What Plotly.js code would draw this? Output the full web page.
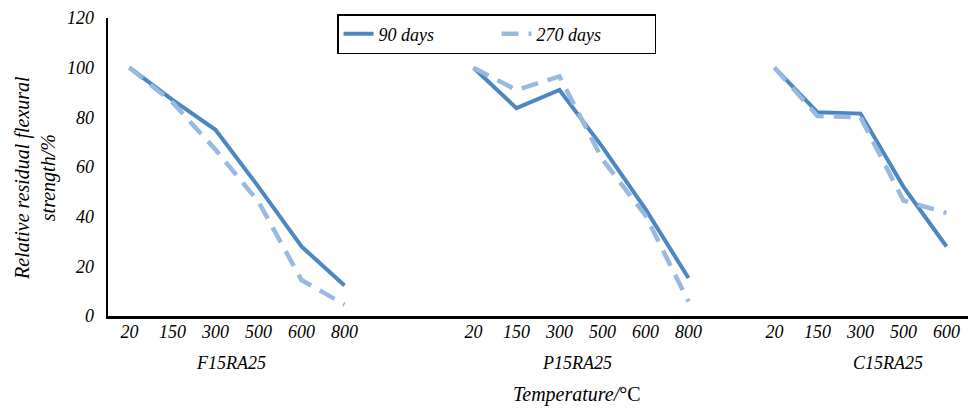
<!DOCTYPE html>
<html>
<head>
<meta charset="utf-8">
<script src="https://cdn.plot.ly/plotly-3.0.1.min.js"></script>
<style>html,body{margin:0;padding:0;background:#fff}#chart{width:973px;height:408px}</style>
</head>
<body>
<div id="chart"></div>
<script>
// ---- data ----
const groups = ['F15RA25', 'P15RA25', 'C15RA25'];
const tempsF = [20, 150, 300, 500, 600, 800];
const tempsP = [20, 150, 300, 500, 600, 800];
const tempsC = [20, 150, 300, 500, 600];
const days90F = [100, 87, 75, 52, 28, 12.3];
const days90P = [100, 83.7, 91, 68, 43, 15.3];
const days90C = [100, 82, 81.5, 52, 28];
const days270F = [100, 86, 67, 46, 14.5, 4.6];
const days270P = [100, 91, 96.5, 63, 40.5, 5.8];
const days270C = [100, 80.5, 80, 46.5, 41.5];
const seriesNames = ['90 days', '270 days'];
const blanksAfter = [2, 1, 0]; // empty categories after each group

// ---- build category positions ----
const groupTemps = [tempsF, tempsP, tempsC];
const g90 = [days90F, days90P, days90C];
const g270 = [days270F, days270P, days270C];
let x = [], y90 = [], y270 = [], tickvals = [], ticktext = [], groupMid = [];
let idx = 0;
groupTemps.forEach((temps, g) => {
  const start = idx;
  temps.forEach((t, i) => {
    x.push(idx); y90.push(g90[g][i]); y270.push(g270[g][i]);
    tickvals.push(idx); ticktext.push(String(t));
    idx++;
  });
  groupMid.push((start + idx - 1) / 2);
  for (let b = 0; b < blanksAfter[g]; b++) { x.push(idx); y90.push(null); y270.push(null); idx++; }
});
const nCat = idx;

const serif = '"Times New Roman", "Liberation Serif", Times, serif';
const labelShift = [-0.13, -0.1, 0.63]; // group label nudges (category units)

const traces = [
  {x: x, y: y90, name: seriesNames[0], type: 'scatter', mode: 'lines', connectgaps: false,
   line: {color: '#4D87C1', width: 4}, hoverinfo: 'skip'},
  {x: x, y: y270, name: seriesNames[1], type: 'scatter', mode: 'lines', connectgaps: false,
   line: {color: '#97B9E2', width: 4.5, dash: '17px,10px'}, hoverinfo: 'skip'}
];

const annotations = groups.map((g, i) => ({
  text: '<i>' + g + '</i>', x: groupMid[i] + labelShift[i], xref: 'x', y: -0.157, yref: 'paper',
  xanchor: 'center', yanchor: 'middle', showarrow: false,
  font: {family: serif, size: 18, color: '#000'}
}));
annotations.push({
  text: '<i>Relative residual flexural<br>strength/%</i>', textangle: -90,
  x: -0.085, xref: 'paper', y: 0.463, yref: 'paper', xanchor: 'center', yanchor: 'middle',
  showarrow: false, font: {family: serif, size: 20, color: '#000'}
});
annotations.push({
  text: '<i>Temperature/</i>°C', x: (groupMid[1] + labelShift[1]), xref: 'x', y: -0.265, yref: 'paper',
  xanchor: 'center', yanchor: 'middle', showarrow: false,
  font: {family: serif, size: 20, color: '#000'}
});

const layout = {
  width: 973, height: 408,
  margin: {l: 108, r: 5, t: 18, b: 92, pad: 0},
  paper_bgcolor: '#fff', plot_bgcolor: '#fff',
  font: {family: serif, color: '#000'},
  showlegend: true,
  legend: {orientation: 'h', x: 0.2663, y: 1.013, xanchor: 'left', yanchor: 'top',
    bordercolor: '#000', borderwidth: 1.5, bgcolor: '#fff',
    font: {family: serif, size: 18, color: '#000', style: 'italic'}, entrywidth: 113},
  xaxis: {range: [-0.5, nCat - 0.5], tickvals: tickvals, ticktext: ticktext,
    showgrid: false, zeroline: false, showline: true, linecolor: '#000', linewidth: 2.5,
    ticks: '', ticklabelstandoff: -2,
    tickfont: {family: serif, size: 18, color: '#000', style: 'italic'}},
  yaxis: {range: [0, 120], dtick: 20, showgrid: false, zeroline: false,
    showline: true, linecolor: '#000', linewidth: 2.5, ticks: '', ticklabelstandoff: 8,
    tickfont: {family: serif, size: 18, color: '#000', style: 'italic'}},
  annotations: annotations
};

Plotly.newPlot('chart', traces, layout, {displayModeBar: false, staticPlot: true});
</script>
</body>
</html>
